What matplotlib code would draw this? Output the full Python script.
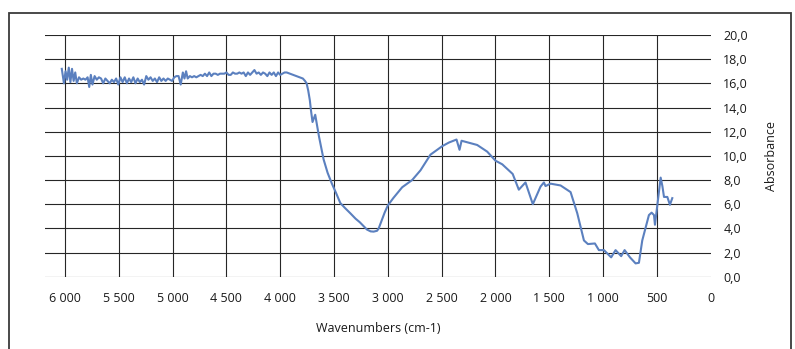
import matplotlib
matplotlib.use("Agg")
import matplotlib.pyplot as plt
from matplotlib.patches import Rectangle
from matplotlib.ticker import FuncFormatter

plt.rcParams['font.family'] = ['Open Sans', 'DejaVu Sans']

# IR spectrum
wavenumbers = [
    6030, 6010, 5995, 5980, 5965, 5950, 5935, 5920, 5905, 5890,
    5870, 5850, 5830, 5810, 5790, 5775, 5760, 5745, 5725, 5705,
    5685, 5665, 5645, 5625, 5605, 5585, 5565, 5545, 5525, 5505,
    5485, 5465, 5445, 5425, 5405, 5385, 5365, 5345, 5325, 5305,
    5285, 5265, 5245, 5225, 5205, 5185, 5165, 5145, 5125, 5105,
    5085, 5065, 5045, 5025, 5005, 4985, 4965, 4945, 4925, 4905,
    4890, 4875, 4860, 4840, 4820, 4800, 4780, 4760, 4740, 4720,
    4700, 4680, 4660, 4640, 4620, 4600, 4580, 4560, 4540, 4520,
    4500, 4480, 4460, 4440, 4420, 4400, 4380, 4360, 4340, 4320,
    4300, 4280, 4260, 4240, 4220, 4200, 4180, 4160, 4140, 4120,
    4100, 4080, 4060, 4040, 4020, 4000, 3980, 3960, 3940, 3910,
    3880, 3850, 3820, 3790, 3770, 3755, 3740, 3725, 3715, 3700,
    3675, 3640, 3597, 3560, 3520, 3480, 3442, 3400, 3349, 3300,
    3260, 3194, 3160, 3132, 3100, 3085, 3060, 3030, 3000, 2950,
    2867, 2774, 2697, 2604, 2495, 2433, 2362, 2334, 2315, 2170,
    2077, 2000, 1937, 1876, 1840, 1783, 1721, 1653, 1581, 1550,
    1535, 1488, 1395, 1302, 1240, 1178, 1141, 1076, 1039, 992,
    925, 884, 832, 800, 750, 698, 667, 636, 574, 549,
    527, 518, 502, 465, 449, 434, 403, 379, 357,
]
absorbance = [
    17.2, 16.0, 17.0, 16.3, 17.3, 16.1, 17.2, 16.2, 16.9, 16.0,
    16.5, 16.3, 16.4, 16.3, 16.5, 15.7, 16.7, 15.9, 16.6, 16.3,
    16.5, 16.4, 16.0, 16.4, 16.2, 16.0, 16.3, 16.1, 16.4, 15.9,
    16.5, 16.1, 16.5, 16.0, 16.4, 16.1, 16.5, 16.0, 16.4, 16.1,
    16.3, 15.9, 16.6, 16.3, 16.5, 16.2, 16.4, 16.1, 16.5, 16.2,
    16.4, 16.2, 16.4, 16.3, 16.2, 16.5, 16.6, 16.6, 15.9, 16.9,
    16.4, 17.0, 16.4, 16.6, 16.5, 16.6, 16.5, 16.6, 16.7, 16.6,
    16.8, 16.6, 16.9, 16.6, 16.8, 16.8, 16.7, 16.8, 16.8, 16.8,
    16.9, 16.7, 16.7, 16.9, 16.8, 16.8, 16.9, 16.8, 16.9, 16.6,
    16.9, 16.7, 16.9, 17.1, 16.8, 16.9, 16.7, 16.9, 16.8, 16.6,
    16.9, 16.7, 16.9, 16.6, 16.9, 16.7, 16.8, 16.9, 16.9, 16.8,
    16.7, 16.6, 16.5, 16.4, 16.2, 16.0, 15.4, 14.6, 13.8, 12.8,
    13.4, 11.6, 9.7, 8.6, 7.7, 6.9, 6.1, 5.7, 5.25, 4.8,
    4.5, 3.9, 3.75, 3.73, 3.8, 4.0, 4.6, 5.3, 5.9, 6.5,
    7.4, 8.0, 8.8, 10.1, 10.8, 11.1, 11.35, 10.5, 11.25, 10.9,
    10.35, 9.6, 9.3, 8.8, 8.5, 7.2, 7.8, 6.0, 7.46, 7.8,
    7.5, 7.7, 7.55, 7.0, 5.25, 3.0, 2.7, 2.75, 2.2, 2.2,
    1.6, 2.2, 1.7, 2.2, 1.6, 1.1, 1.15, 3.0, 5.1, 5.3,
    5.1, 4.3, 5.5, 8.2, 7.5, 6.6, 6.6, 5.95, 6.5,
]

x_ticks = [6000, 5500, 5000, 4500, 4000, 3500, 3000, 2500, 2000, 1500, 1000, 500, 0]
y_ticks = [0, 2, 4, 6, 8, 10, 12, 14, 16, 18, 20]

W, H = 795, 349
fig = plt.figure(figsize=(W / 100, H / 100), dpi=100)

# outer chart frame
fig.patches.append(Rectangle((9 / W, -0.05), (791 - 9) / W, 1.05 - 13 / H,
                             transform=fig.transFigure, fill=False,
                             edgecolor='#3a3a3a', linewidth=1.3))

ax = fig.add_axes([45 / W, 72.3 / H, 665.7 / W, 241.7 / H])
ax.plot(wavenumbers, absorbance, color='#5b80bf', linewidth=1.5, zorder=3)

ax.set_xlim(6186, 0)
ax.set_ylim(0, 20)
ax.set_xticks(x_ticks)
ax.set_yticks(y_ticks)
ax.xaxis.set_major_formatter(FuncFormatter(lambda v, p: f"{int(v):,}".replace(",", " ")))
ax.yaxis.set_major_formatter(FuncFormatter(lambda v, p: f"{v:.1f}".replace(".", ",")))
ax.yaxis.tick_right()
ax.yaxis.set_label_position('right')

ax.grid(True, color='#262626', linewidth=0.8)
ax.get_xgridlines()[-1].set_visible(False)
for s in ax.spines.values():
    s.set_visible(False)

ax.tick_params(axis='x', length=0, pad=11, labelsize=9, colors='#1a1a1a')
ax.tick_params(axis='y', length=0, pad=9, labelsize=9, colors='#1a1a1a')

ax.set_xlabel("Wavenumbers (cm-1)", fontsize=9, color='#1a1a1a', labelpad=12)
ax.set_ylabel("Absorbance", fontsize=9, color='#1a1a1a', labelpad=12, rotation=90)

fig.savefig("out.png", dpi=100)
